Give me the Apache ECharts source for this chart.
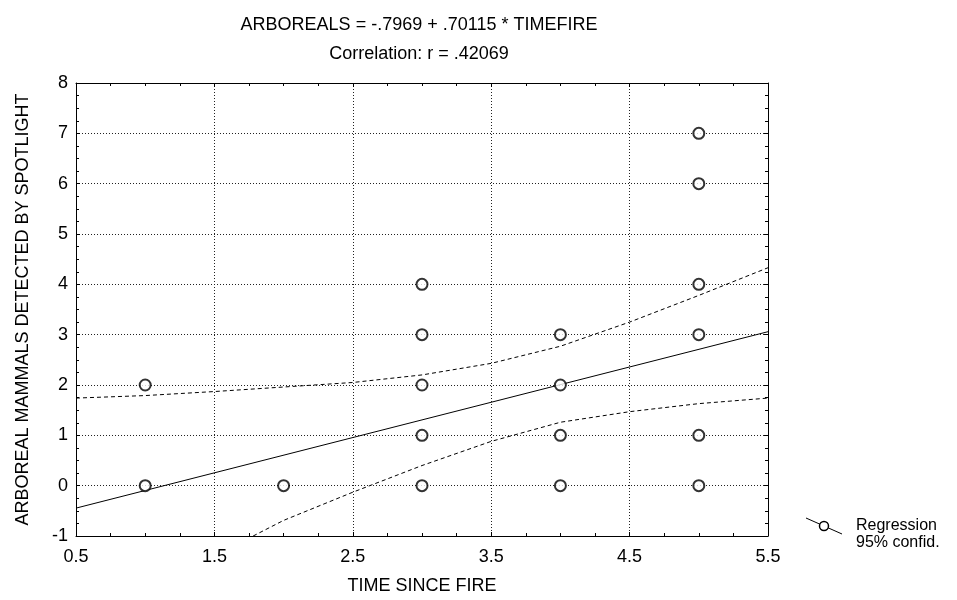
<!DOCTYPE html>
<html>
<head>
<meta charset="utf-8">
<script src="https://cdn.jsdelivr.net/npm/echarts@6/dist/echarts.min.js"></script>
<style>html,body{margin:0;padding:0;background:#fff}#c{width:957px;height:600px}</style>
</head>
<body>
<div id="c"></div>
<script>
// Observed data points (TIME SINCE FIRE, ARBOREALS)
const pointX = [1, 1, 2, 3, 3, 3, 3, 3, 4, 4, 4, 4, 5, 5, 5, 5, 5, 5];
const pointY = [2, 0, 0, 4, 3, 2, 1, 0, 3, 2, 1, 0, 7, 6, 4, 3, 1, 0];
// Regression line end points
const regX = [0.5, 5.5];
const regY = [-0.446, 3.059];
// 95% confidence band
const upperX = [0.5, 1, 1.5, 2, 2.5, 3, 3.5, 4, 4.5, 5, 5.5];
const upperY = [1.74, 1.79, 1.87, 1.96, 2.05, 2.20, 2.43, 2.77, 3.25, 3.78, 4.33];
const lowerX = [1.78, 2, 2.5, 3, 3.5, 4, 4.5, 5, 5.5];
const lowerY = [-1, -0.69, -0.13, 0.40, 0.88, 1.26, 1.47, 1.63, 1.74];
// Text
const titleLine1 = 'ARBOREALS = -.7969 + .70115 * TIMEFIRE';
const titleLine2 = 'Correlation: r = .42069';
const xName = 'TIME SINCE FIRE';
const yName = 'ARBOREAL MAMMALS DETECTED BY SPOTLIGHT';
const legendNames = ['Regression', '95% confid.'];

const zip = (a, b) => a.map((v, i) => [v, b[i]]);
const FONT = 'Liberation Sans, Arial, sans-serif';
const FS = 18;
const chart = echarts.init(document.getElementById('c'), null, {renderer: 'canvas'});

const tickCommon = {
  axisLine: {show: true, onZero: false, lineStyle: {color: '#000', width: 1}},
  axisTick: {show: true, inside: true, length: 4, lineStyle: {color: '#000'}},
  minorTick: {show: true, splitNumber: 4, length: 3, lineStyle: {color: '#000'}},
};

chart.setOption({
  animation: false,
  backgroundColor: '#fff',
  textStyle: {fontFamily: FONT},
  title: [
    {text: titleLine1, left: 414, top: 11, textAlign: 'center',
     textStyle: {fontSize: FS, fontWeight: 'normal', color: '#000', fontFamily: FONT}},
    {text: titleLine2, left: 414, top: 40, textAlign: 'center',
     textStyle: {fontSize: FS, fontWeight: 'normal', color: '#000', fontFamily: FONT}}
  ],
  grid: {left: 76, right: 189, top: 83, bottom: 63, containLabel: false},
  xAxis: [
    Object.assign({
      type: 'value', min: 0.5, max: 5.5, interval: 1, position: 'bottom',
      name: xName, nameLocation: 'middle', nameGap: 41,
      nameTextStyle: {fontSize: FS, color: '#000', fontFamily: FONT},
      axisLabel: {fontSize: FS, color: '#000', margin: 12, fontFamily: FONT},
      splitLine: {show: true, lineStyle: {color: '#222', type: [1, 2], width: 1}},
    }, tickCommon),
    Object.assign({
      type: 'value', min: 0.5, max: 5.5, interval: 1, position: 'top',
      axisLabel: {show: false}, splitLine: {show: false}
    }, tickCommon)
  ],
  yAxis: [
    Object.assign({
      type: 'value', min: -1, max: 8, interval: 1, position: 'left',
      name: yName, nameLocation: 'middle', nameGap: 44, nameRotate: 90,
      nameTextStyle: {fontSize: FS, color: '#000', fontFamily: FONT},
      axisLabel: {fontSize: FS, color: '#000', margin: 8, fontFamily: FONT},
      splitLine: {show: true, lineStyle: {color: '#222', type: [1, 2], width: 1}},
    }, tickCommon),
    Object.assign({
      type: 'value', min: -1, max: 8, interval: 1, position: 'right',
      axisLabel: {show: false}, splitLine: {show: false}
    }, tickCommon)
  ],
  series: [
    {type: 'line', data: zip(upperX, upperY), smooth: false, showSymbol: false, clip: true,
     lineStyle: {color: '#000', width: 1, type: [4, 3]}, z: 3},
    {type: 'line', data: zip(lowerX, lowerY), smooth: false, showSymbol: false, clip: true,
     lineStyle: {color: '#000', width: 1, type: [4, 3]}, z: 3},
    {type: 'line', data: zip(regX, regY), showSymbol: false, clip: true,
     lineStyle: {color: '#000', width: 1}, z: 4},
    {type: 'scatter', data: zip(pointX, pointY), symbol: 'circle', symbolSize: 11,
     itemStyle: {color: '#fff', borderColor: '#000', borderWidth: 2}, z: 5}
  ],
  graphic: [
    {type: 'line', shape: {x1: 806, y1: 518, x2: 842, y2: 534}, style: {stroke: '#000', lineWidth: 1}},
    {type: 'circle', shape: {cx: 824, cy: 526, r: 4.5}, style: {fill: '#fff', stroke: '#000', lineWidth: 1.5}},
    {type: 'text', left: 856, top: 518, style: {text: legendNames[0], font: '16px ' + FONT, fill: '#000'}},
    {type: 'text', left: 856, top: 535, style: {text: legendNames[1], font: '16px ' + FONT, fill: '#000'}}
  ]
});
</script>
</body>
</html>
